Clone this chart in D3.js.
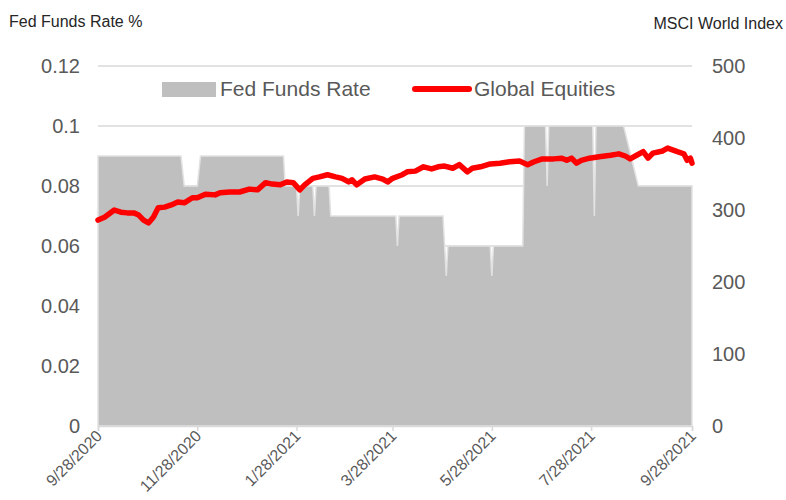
<!DOCTYPE html>
<html>
<head>
<meta charset="utf-8">
<script src="https://cdn.jsdelivr.net/npm/d3@7.9.0/dist/d3.min.js"></script>
<style>
  body { margin: 0; background: #fff; }
  text { font-family: "Liberation Sans", Arial, sans-serif; }
</style>
</head>
<body>
<div id="chart"></div>
<script>
// Fed funds rate (%), change points of a daily step series
const rateDates = [
  "2020-09-28", "2020-11-18", "2020-11-20", "2020-11-28", "2020-11-30",
  "2021-01-20", "2021-01-21", "2021-01-28", "2021-01-29", "2021-01-30",
  "2021-02-07", "2021-02-08", "2021-02-09", "2021-02-17", "2021-02-18",
  "2021-03-30", "2021-03-31", "2021-04-01", "2021-04-28", "2021-04-29",
  "2021-04-30", "2021-05-01", "2021-05-27", "2021-05-28", "2021-05-29",
  "2021-06-16", "2021-06-17", "2021-06-30", "2021-07-01", "2021-07-02",
  "2021-07-29", "2021-07-30", "2021-07-31", "2021-08-17", "2021-08-26",
  "2021-09-28"
];
const rateValues = [
  0.09, 0.09, 0.08, 0.08, 0.09,
  0.09, 0.08, 0.08, 0.07, 0.08,
  0.08, 0.07, 0.08, 0.08, 0.07,
  0.07, 0.06, 0.07, 0.07, 0.06,
  0.05, 0.06, 0.06, 0.05, 0.06,
  0.06, 0.1, 0.1, 0.08, 0.1,
  0.1, 0.07, 0.1, 0.1, 0.08,
  0.08
];

// MSCI World Index (global equities)
const eqDates = [
  "2020-09-28", "2020-10-02", "2020-10-08", "2020-10-12", "2020-10-16",
  "2020-10-20", "2020-10-23", "2020-10-26", "2020-10-29", "2020-11-01",
  "2020-11-04", "2020-11-08", "2020-11-12", "2020-11-16", "2020-11-20",
  "2020-11-25", "2020-11-28", "2020-12-03", "2020-12-09", "2020-12-12",
  "2020-12-18", "2020-12-24", "2020-12-30", "2021-01-04", "2021-01-09",
  "2021-01-13", "2021-01-18", "2021-01-22", "2021-01-26", "2021-01-30",
  "2021-02-02", "2021-02-07", "2021-02-11", "2021-02-16", "2021-02-21",
  "2021-02-25", "2021-03-01", "2021-03-03", "2021-03-06", "2021-03-11",
  "2021-03-17", "2021-03-22", "2021-03-25", "2021-03-28", "2021-04-03",
  "2021-04-06", "2021-04-11", "2021-04-16", "2021-04-21", "2021-04-25",
  "2021-04-29", "2021-05-04", "2021-05-08", "2021-05-13", "2021-05-16",
  "2021-05-21", "2021-05-27", "2021-06-02", "2021-06-08", "2021-06-14",
  "2021-06-19", "2021-06-23", "2021-06-28", "2021-07-05", "2021-07-10",
  "2021-07-13", "2021-07-16", "2021-07-19", "2021-07-22", "2021-07-27",
  "2021-08-02", "2021-08-09", "2021-08-14", "2021-08-18", "2021-08-21",
  "2021-08-25", "2021-08-29", "2021-09-01", "2021-09-04", "2021-09-10",
  "2021-09-13", "2021-09-19", "2021-09-23", "2021-09-25", "2021-09-27",
  "2021-09-28"
];
const eqValues = [
  286, 290, 300, 297, 296,
  296, 293, 286, 282, 290,
  303, 304, 307, 311, 310,
  317, 317, 322, 321, 324,
  325, 325, 329, 328, 338,
  336, 335, 339, 338, 328,
  335, 344, 346, 349, 346,
  344, 339, 342, 335, 343,
  346, 343, 339, 344, 349,
  353, 354, 360, 357, 360,
  361, 358, 363, 353, 358,
  360, 364, 365, 367, 368,
  363, 367, 371, 371, 372,
  369, 372, 365, 369, 372,
  374, 376, 378, 375, 371,
  376, 381, 372, 379, 382,
  386, 381, 378, 369, 372,
  365
];

const xTickLabels = ["9/28/2020", "11/28/2020", "1/28/2021", "3/28/2021", "5/28/2021", "7/28/2021", "9/28/2021"];
const leftTicks = [0, 0.02, 0.04, 0.06, 0.08, 0.1, 0.12];
const rightTicks = [0, 100, 200, 300, 400, 500];

const parseDate = d3.timeParse("%Y-%m-%d");
const parseTick = d3.timeParse("%m/%d/%Y");

const rateData = rateDates.map((d, i) => ({ date: parseDate(d), value: rateValues[i] }));
const eqData = eqDates.map((d, i) => ({ date: parseDate(d), value: eqValues[i] }));
const tickDates = xTickLabels.map(parseTick);

const width = 786, height = 500;
const plot = { left: 98, right: 692, top: 66, bottom: 426 };
const grey = "#595959";

const svg = d3.select("#chart").append("svg")
  .attr("width", width)
  .attr("height", height);

const x = d3.scaleTime()
  .domain([tickDates[0], tickDates[tickDates.length - 1]])
  .range([plot.left, plot.right]);
const yLeft = d3.scaleLinear().domain([0, 0.12]).range([plot.bottom, plot.top]);
const yRight = d3.scaleLinear().domain([0, 500]).range([plot.bottom, plot.top]);

// gridlines
svg.append("g")
  .selectAll("line")
  .data(leftTicks.slice(1))
  .join("line")
  .attr("x1", plot.left)
  .attr("x2", plot.right)
  .attr("y1", d => yLeft(d))
  .attr("y2", d => yLeft(d))
  .attr("stroke", "#d9d9d9")
  .attr("stroke-width", 1.5);

// fed funds area
const area = d3.area()
  .x(d => x(d.date))
  .y0(yLeft(0))
  .y1(d => yLeft(d.value));

svg.append("path")
  .datum(rateData)
  .attr("d", area)
  .attr("fill", "#bfbfbf")
  .attr("stroke", "#e2e2e2")
  .attr("stroke-width", 1.5)
  .attr("stroke-linejoin", "miter");

// x axis
const xAxis = svg.append("g")
  .attr("transform", `translate(0, ${plot.bottom})`)
  .call(d3.axisBottom(x).tickValues(tickDates).tickSize(5).tickFormat(""));
xAxis.select(".domain").attr("stroke", "#d9d9d9").attr("stroke-width", 1.5);
xAxis.selectAll(".tick line").attr("stroke", "#d9d9d9").attr("stroke-width", 1.5);

svg.append("g")
  .selectAll("text")
  .data(tickDates)
  .join("text")
  .attr("transform", d => `translate(${x(d) + 5}, ${plot.bottom + 11}) rotate(-45)`)
  .attr("text-anchor", "end")
  .attr("fill", grey)
  .style("font-size", "16px")
  .text((d, i) => xTickLabels[i]);

// left axis labels
svg.append("g")
  .selectAll("text")
  .data(leftTicks)
  .join("text")
  .attr("x", 80)
  .attr("y", d => yLeft(d) + 7)
  .attr("text-anchor", "end")
  .attr("fill", grey)
  .style("font-size", "20px")
  .text(d => String(+d.toFixed(2)));

// right axis labels
svg.append("g")
  .selectAll("text")
  .data(rightTicks)
  .join("text")
  .attr("x", 712)
  .attr("y", d => yRight(d) + 7)
  .attr("fill", grey)
  .style("font-size", "20px")
  .text(d => d);

// equities line
const line = d3.line()
  .x(d => x(d.date))
  .y(d => yRight(d.value));

svg.append("path")
  .datum(eqData)
  .attr("d", line)
  .attr("fill", "none")
  .attr("stroke", "#ff0000")
  .attr("stroke-width", 5.5)
  .attr("stroke-linejoin", "round")
  .attr("stroke-linecap", "round");

// axis titles
svg.append("text")
  .attr("x", 9)
  .attr("y", 27)
  .attr("fill", "#262626")
  .style("font-size", "16px")
  .text("Fed Funds Rate %");

svg.append("text")
  .attr("x", 783)
  .attr("y", 29)
  .attr("text-anchor", "end")
  .attr("fill", "#262626")
  .style("font-size", "16px")
  .text("MSCI World Index");

// legend
const legend = svg.append("g");
legend.append("rect")
  .attr("x", 162)
  .attr("y", 82)
  .attr("width", 54)
  .attr("height", 15)
  .attr("fill", "#bfbfbf");
legend.append("text")
  .attr("x", 220)
  .attr("y", 96)
  .attr("fill", grey)
  .style("font-size", "21px")
  .text("Fed Funds Rate");
legend.append("line")
  .attr("x1", 415)
  .attr("x2", 469)
  .attr("y1", 89)
  .attr("y2", 89)
  .attr("stroke", "#ff0000")
  .attr("stroke-width", 6)
  .attr("stroke-linecap", "round");
legend.append("text")
  .attr("x", 474)
  .attr("y", 96)
  .attr("fill", grey)
  .style("font-size", "21px")
  .text("Global Equities");
</script>
</body>
</html>
